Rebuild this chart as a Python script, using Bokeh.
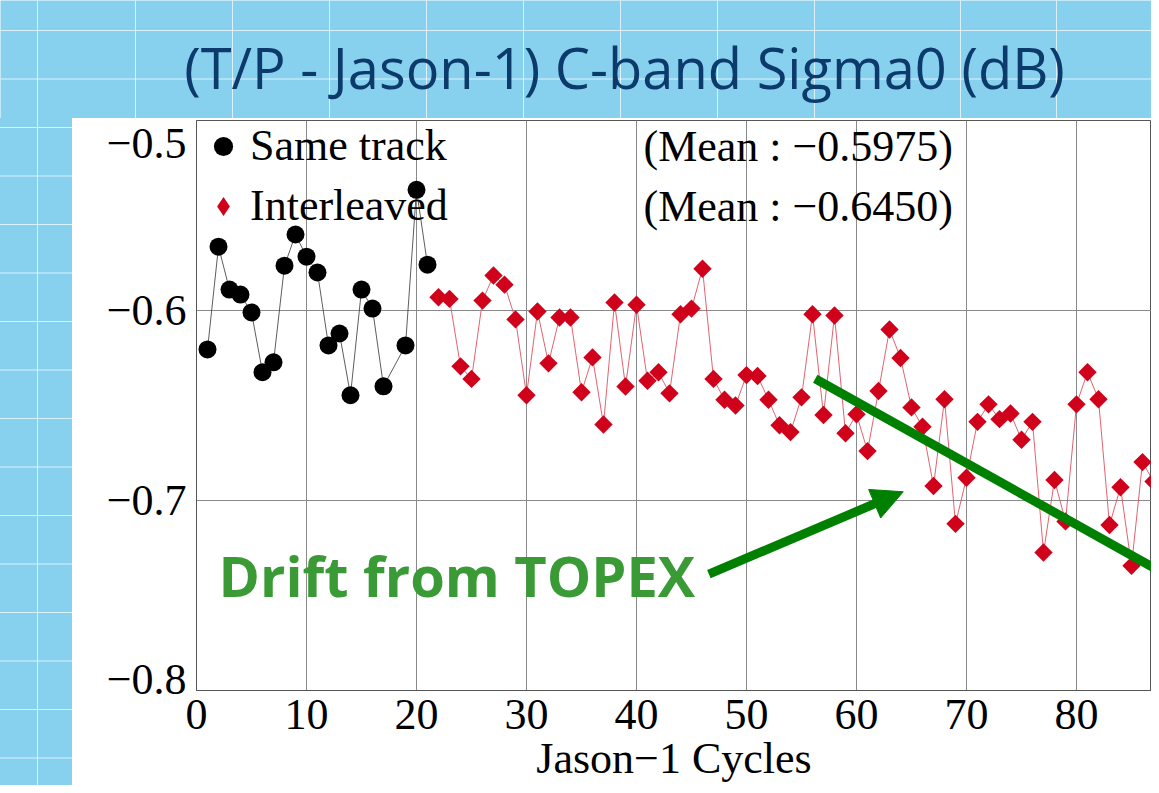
import numpy as np
from bokeh.plotting import figure
from bokeh.layouts import column, row
from bokeh.models import (Range1d, FixedTicker, Label, Span, Legend, LegendItem,
                          Arrow, NormalHead, Div)
from bokeh.embed import file_html
from bokeh.resources import INLINE

# ---------------- data ----------------
same_cycles = [1, 2, 3, 4, 5, 6, 7, 8, 9, 10, 11, 12, 13, 14, 15, 16, 17, 19, 20, 21]
same_sigma0 = [-0.6205, -0.5664, -0.5890, -0.5916, -0.6010, -0.6325, -0.6273, -0.5764,
               -0.5600, -0.5717, -0.5800, -0.6184, -0.6121, -0.6446, -0.5890, -0.5990,
               -0.6399, -0.6184, -0.5365, -0.5759]

inter_cycles = list(range(22, 88))
inter_sigma0 = [-0.5930, -0.5939, -0.6294, -0.6360, -0.5948, -0.5816, -0.5864, -0.6047,
                -0.6446, -0.6005, -0.6278, -0.6037, -0.6037, -0.6430, -0.6247, -0.6600,
                -0.5958, -0.6400, -0.5970, -0.6370, -0.6325, -0.6436, -0.6020, -0.5990,
                -0.5780, -0.6360, -0.6470, -0.6500, -0.6340, -0.6345, -0.6470, -0.6604,
                -0.6640, -0.6457, -0.6020, -0.6550, -0.6026, -0.6646, -0.6546, -0.6740,
                -0.6424, -0.6100, -0.6250, -0.6510, -0.6612, -0.6924, -0.6467, -0.7123,
                -0.6880, -0.6586, -0.6494, -0.6572, -0.6542, -0.6680, -0.6586, -0.7274,
                -0.6892, -0.7110, -0.6494, -0.6325, -0.6467, -0.7129, -0.6930, -0.7344,
                -0.6798, -0.6900]

x_ticks = [0, 10, 20, 30, 40, 50, 60, 70, 80]
y_ticks = [-0.8, -0.7, -0.6, -0.5]
y_tick_labels = ["\u22120.8", "\u22120.7", "\u22120.6", "\u22120.5"]
legend_labels = ["Same track", "Interleaved"]
mean_labels = ["(Mean : \u22120.5975)", "(Mean : \u22120.6450)"]
title_text = "(T/P - Jason-1) C-band Sigma0 (dB)"
x_label = "Jason\u22121 Cycles"
note_text = "Drift from TOPEX"

# hand-drawn annotation (trend line and arrow), in data units
trend_x = [56.25, 87.64]
trend_y = [-0.6359, -0.7374]
arrow_start = (46.58, -0.7387)
arrow_base = (61.66, -0.7017)
arrow_tip = (64.25, -0.6954)

BLUE = "#87d1ef"
GREEN = "#008000"
SERIF = "Liberation Serif"

# geometry (page pixels)
W, H = 1151, 785
BAND_H = 118
STRIP_W = 72
FRAME_LEFT, FRAME_TOP, FRAME_BOTTOM = 196, 120, 691
PX_PER_CYCLE = 11.0
PX_PER_UNIT = (FRAME_BOTTOM - FRAME_TOP) / (y_ticks[-1] - y_ticks[0])

# background tile lines (page pixels)
bg_h_lines = [30, 78.5]
bg_v_lines = [37, 135, 232, 329, 426, 523, 620, 717, 814, 960, 1056, 1153]

# ---------------- title band ----------------
top = figure(width=W, height=BAND_H, x_range=Range1d(0, W), y_range=Range1d(BAND_H, 0),
             output_backend="svg", toolbar_location=None, min_border=0,
             x_axis_location=None, y_axis_location=None)
top.grid.visible = False
top.background_fill_color = BLUE
top.border_fill_color = BLUE
top.outline_line_color = None
for yy in bg_h_lines:
    top.add_layout(Span(location=yy, dimension="width", line_color="white",
                        line_alpha=0.7, line_width=1))
for xx in bg_v_lines:
    top.add_layout(Span(location=xx, dimension="height", line_color="white",
                        line_alpha=0.7, line_width=1))
top.add_layout(Label(x=624, y=66, text=title_text, text_align="center",
                     text_baseline="middle", text_font="Open Sans",
                     text_font_size="56px", text_color="#0b3a6b"))

# ---------------- left strip (plain slide background) ----------------
strip = Div(text="", width=STRIP_W, height=H - BAND_H, margin=0,
            styles={"background-color": BLUE,
                    "background-image": ("linear-gradient(to bottom, rgba(255,255,255,0.7) 1px, "
                                         "transparent 1px), linear-gradient(to right, "
                                         "rgba(255,255,255,0.7) 1px, transparent 1px)"),
                    "background-size": "100% 48.5px, 97px 100%",
                    "background-position": "0 9px, 37px 0",
                    "padding": "0", "margin": "0"})

# ---------------- main chart ----------------
main_w = W - STRIP_W
frame_w = W - FRAME_LEFT
p = figure(width=main_w, height=H - BAND_H,
           x_range=Range1d(0, frame_w / PX_PER_CYCLE), y_range=Range1d(y_ticks[0], y_ticks[-1]),
           output_backend="svg", toolbar_location=None,
           min_border_left=FRAME_LEFT - STRIP_W, min_border_right=0,
           min_border_top=FRAME_TOP - BAND_H, min_border_bottom=H - FRAME_BOTTOM)
p.background_fill_color = "white"
p.border_fill_color = "white"
p.outline_line_color = "#555555"
p.outline_line_width = 1

# y tick labels: the end labels sit inside the frame, as in the original
y_label_pos = list(y_ticks)
y_label_pos[0] = y_ticks[0] + 11 / PX_PER_UNIT
y_label_pos[-1] = y_ticks[-1] - 23 / PX_PER_UNIT

p.xaxis.ticker = FixedTicker(ticks=x_ticks)
p.yaxis.ticker = FixedTicker(ticks=y_label_pos)
p.yaxis.major_label_overrides = {v: s for v, s in zip(y_label_pos, y_tick_labels)}
p.xaxis.axis_label = x_label
for ax in p.axis:
    ax.axis_line_color = "#555555"
    ax.major_tick_line_color = None
    ax.minor_tick_line_color = None
    ax.major_tick_out = 0
    ax.major_tick_in = 0
    ax.minor_tick_out = 0
    ax.minor_tick_in = 0
    ax.major_label_text_font = SERIF
    ax.major_label_text_font_size = "44px"
    ax.major_label_text_color = "black"
    ax.axis_label_text_font = SERIF
    ax.axis_label_text_font_size = "44px"
    ax.axis_label_text_font_style = "normal"
    ax.axis_label_text_color = "black"
p.yaxis.major_label_standoff = 10
p.xaxis.major_label_standoff = 9
p.xaxis.axis_label_standoff = 2

p.xgrid.ticker = FixedTicker(ticks=x_ticks)
p.ygrid.ticker = FixedTicker(ticks=y_ticks)
p.grid.grid_line_color = "#8a8a8a"
p.grid.grid_line_width = 1

p.line(same_cycles, same_sigma0, line_color="#333333", line_width=0.8)
r_same = p.scatter(same_cycles, same_sigma0, marker="circle", size=18,
                   fill_color="black", line_color=None)
p.line(inter_cycles, inter_sigma0, line_color="#e0505e", line_width=0.9)
r_inter = p.scatter(inter_cycles, inter_sigma0, marker="square", angle=np.pi / 4, size=13,
                    fill_color="#d0021b", line_color=None)
# legend swatch for the diamonds (no points of its own)
r_inter_key = p.scatter(x=[np.nan], y=[np.nan], marker="diamond", size=18,
                        fill_color="#d0021b", line_color=None)

legend = Legend(items=[LegendItem(label=legend_labels[0], renderers=[r_same]),
                       LegendItem(label=legend_labels[1], renderers=[r_inter_key])],
                location="top_left", padding=0, margin=0, spacing=9,
                glyph_width=54, glyph_height=48, label_standoff=0,
                label_text_font=SERIF, label_text_font_size="44px",
                label_text_color="black",
                background_fill_alpha=0, border_line_alpha=0)
p.add_layout(legend)

mean_x = (643 - FRAME_LEFT) / PX_PER_CYCLE
p.add_layout(Label(x=mean_x, y=y_ticks[-1] - 26 / PX_PER_UNIT, text=mean_labels[0],
                   text_font=SERIF, text_font_size="44px", text_baseline="middle",
                   text_color="black"))
p.add_layout(Label(x=mean_x, y=y_ticks[-1] - 86 / PX_PER_UNIT, text=mean_labels[1],
                   text_font=SERIF, text_font_size="44px", text_baseline="middle",
                   text_color="black"))

# trend line annotation
p.line(trend_x, trend_y, line_color=GREEN, line_width=9)
# arrow annotation
p.add_layout(Arrow(end=None, x_start=arrow_start[0], y_start=arrow_start[1],
                   x_end=arrow_base[0], y_end=arrow_base[1],
                   line_color=GREEN, line_width=9))
p.add_layout(Arrow(end=NormalHead(size=31, fill_color=GREEN, line_color=GREEN, line_width=1),
                   x_start=arrow_base[0], y_start=arrow_base[1],
                   x_end=arrow_tip[0], y_end=arrow_tip[1],
                   line_color=GREEN, line_width=1, line_alpha=0))
p.add_layout(Label(x=(218 - FRAME_LEFT) / PX_PER_CYCLE, y=-0.6 - (575 - 310) / PX_PER_UNIT,
                   text=note_text, text_font="Open Sans",
                   text_font_style="bold", text_font_size="56px",
                   text_baseline="middle", text_color="#3a9b36"))

layout = column(top, row(strip, p))
open("out.html", "w").write(file_html(layout, INLINE))
